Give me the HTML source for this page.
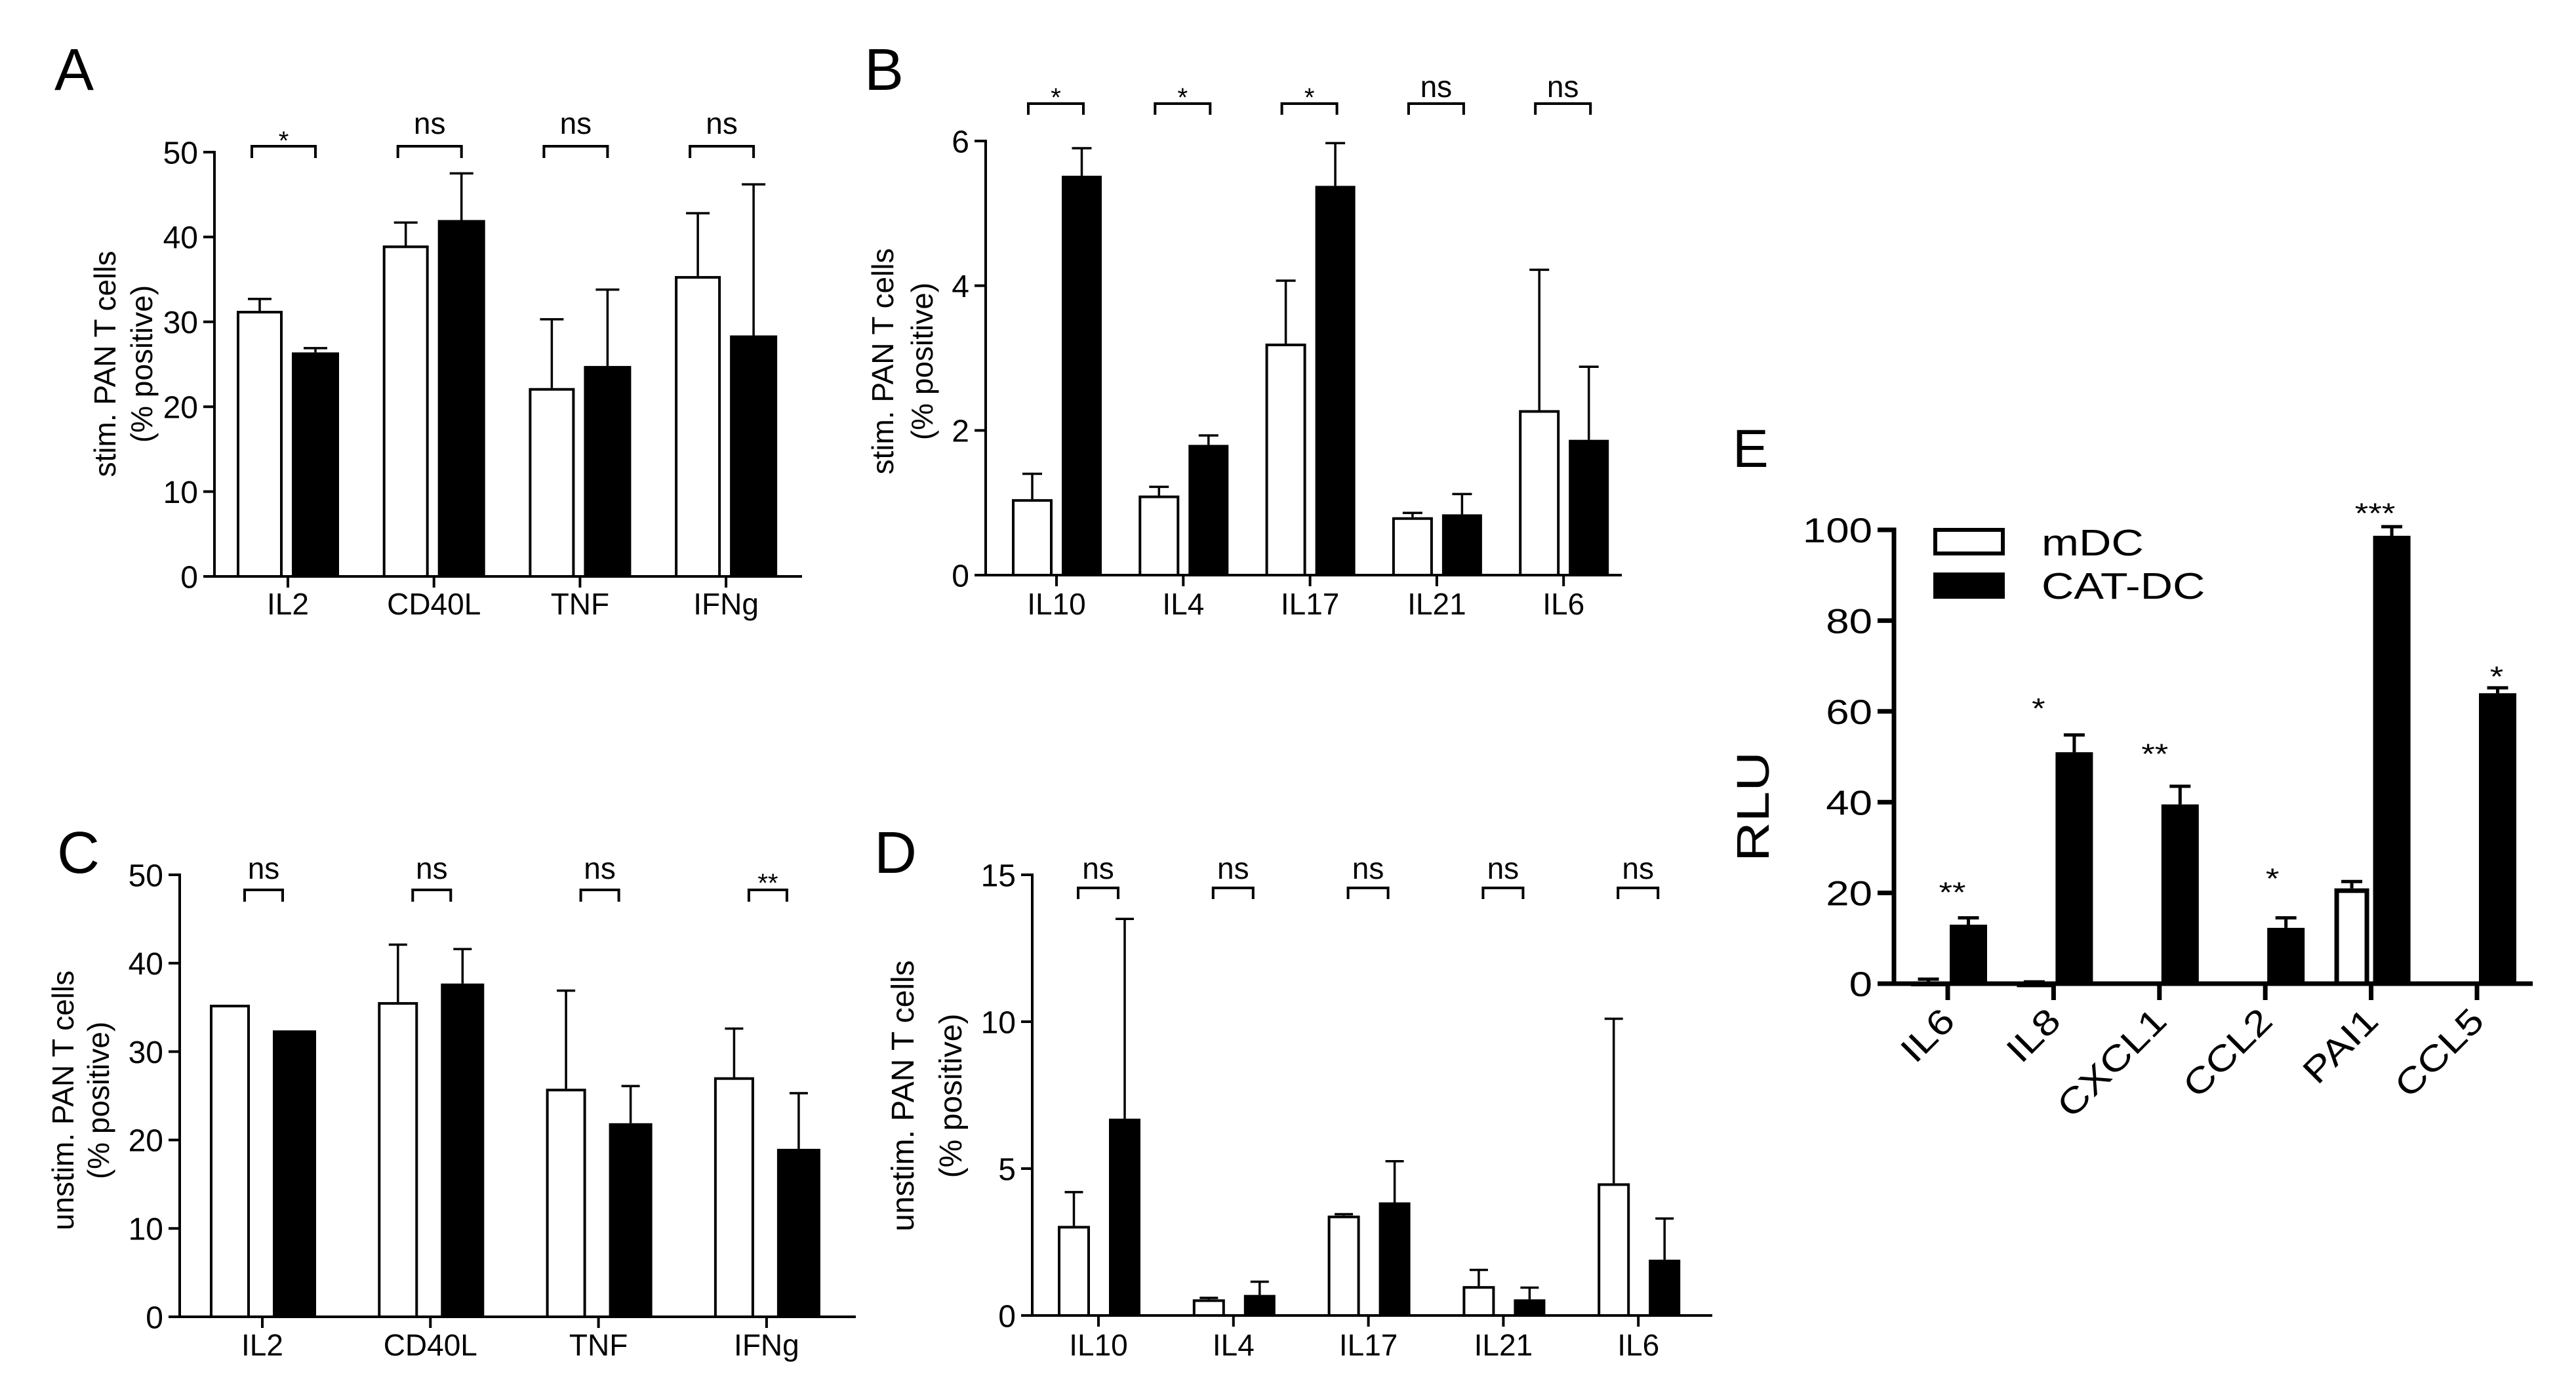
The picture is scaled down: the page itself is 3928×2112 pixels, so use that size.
<!DOCTYPE html>
<html><head><meta charset="utf-8"><style>
html,body{margin:0;padding:0;background:#fff}
svg{display:block}
text{font-family:"Liberation Sans",Arial,sans-serif;fill:#000}
</style></head><body>
<svg id="fig" xmlns="http://www.w3.org/2000/svg" width="3928" height="2112" viewBox="0 0 3928 2112"></svg>
<script>
// ---------- DATA ----------
const catsA = ["IL2","CD40L","TNF","IFNg"];
const whiteA = [31.3, 39.0, 22.2, 35.4];
const whiteErrA = [32.7, 41.7, 30.3, 42.8];
const blackA = [26.4, 42.0, 24.8, 28.4];
const blackErrA = [26.9, 47.5, 33.8, 46.2];
const sigA = ["*","ns","ns","ns"];
const ticksA = [0,10,20,30,40,50];

const catsB = ["IL10","IL4","IL17","IL21","IL6"];
const whiteB = [1.05, 1.1, 3.2, 0.8, 2.28];
const whiteErrB = [1.4, 1.22, 4.07, 0.86, 4.22];
const blackB = [5.52, 1.8, 5.38, 0.84, 1.87];
const blackErrB = [5.9, 1.93, 5.97, 1.12, 2.88];
const sigB = ["*","*","*","ns","ns"];
const ticksB = [0,2,4,6];

const catsC = ["IL2","CD40L","TNF","IFNg"];
const whiteC = [35.3, 35.6, 25.8, 27.1];
const whiteErrC = [35.3, 42.1, 36.9, 32.6];
const blackC = [32.4, 37.7, 21.9, 19.0];
const blackErrC = [32.4, 41.6, 26.1, 25.3];
const sigC = ["ns","ns","ns","**"];
const ticksC = [0,10,20,30,40,50];

const catsD = ["IL10","IL4","IL17","IL21","IL6"];
const whiteD = [3.05, 0.55, 3.4, 1.0, 4.5];
const whiteErrD = [4.2, 0.6, 3.45, 1.55, 10.1];
const blackD = [6.7, 0.7, 3.85, 0.55, 1.9];
const blackErrD = [13.5, 1.15, 5.25, 0.95, 3.3];
const sigD = ["ns","ns","ns","ns","ns"];
const ticksD = [0,5,10,15];

const catsE = ["IL6","IL8","CXCL1","CCL2","PAI1","CCL5"];
const whiteE = [0.5, 0.3, 0, 0, 21.0, 0];
const whiteErrE = [1.0, 0.4, 0, 0, 22.5, 0];
const blackE = [13.0, 51.0, 39.5, 12.3, 98.7, 64.0];
const blackErrE = [14.5, 54.8, 43.5, 14.5, 100.7, 65.2];
const sigE = ["**","*","**","*","***","*"];
const sigLevelE = [21.5, 62, 52, 24.5, 105, 69];
const ticksE = [0,20,40,60,80,100];

// ---------- DRAWING ----------
const NS = "http://www.w3.org/2000/svg";
const svg = document.getElementById('fig');
function mk(tag, attrs, parent){
  const e = document.createElementNS(NS, tag);
  for (const k in attrs) e.setAttribute(k, attrs[k]);
  (parent||svg).appendChild(e);
  return e;
}
function txt(parent, x, y, s, size, anchor, rot, sx){
  const t = mk('text', {x:0, y:0, 'font-size':size, 'text-anchor':anchor||'start',
    transform:`translate(${x},${y})${rot?` rotate(${rot})`:''}${sx?` scale(${sx},1)`:''}`}, parent);
  t.textContent = s;
  return t;
}

function panel(p){
  const g = mk('g', {});
  
  
  const ys = v => p.y0 - (v / p.ymax) * (p.y0 - p.yTop);
  const xs = i => p.cx0 + i * p.dx;

  // letter
  const L = txt(g, p.letter[0], p.letter[1], p.id.toUpperCase(), p.letter[2]);
  
  

  // y-axis title
  const yt = mk('g', {}, g);
  
  
  p.ytitle.forEach((line, k) => {
    txt(yt, p.ytX[k], p.ytY, line, p.ytSize, 'middle', -90, p.sx);
  });

  // axes
  const ax = mk('g', {stroke:'#000', 'stroke-width':p.sw, fill:'none'}, g);
  
  
  mk('line', {x1:p.ax, y1:p.y0 + p.sw/2, x2:p.ax, y2:p.yTop - p.sw/2}, ax);
  mk('line', {x1:p.ax - p.sw/2, y1:p.y0, x2:p.xEnd, y2:p.y0}, ax);
  const yl = mk('g', {}, g);
  
  
  p.ticks.forEach(v => {
    mk('line', {x1:p.ax - p.tl, y1:ys(v), x2:p.ax, y2:ys(v)}, ax);
    txt(yl, p.ax - p.tl - 8, ys(v) + p.tickSize*0.36, String(v), p.tickSize, 'end', 0, p.sx);
  });

  // bars
  const bars = mk('g', {}, g);
  
  
  p.cats.forEach((c, i) => {
    const t = xs(i);
    mk('line', {x1:t, y1:p.y0, x2:t, y2:p.y0 + p.tl, stroke:'#000', 'stroke-width':p.sw}, ax);
    [[p.white, p.whiteErr, p.wOff, '#fff', 'white'], [p.black, p.blackErr, p.bOff, '#000', 'black']].forEach(([vals, errs, off, fill, nm]) => {
      const v = vals[i], e = errs[i];
      const x1 = t + off[0], x2 = t + off[1], cx = (x1 + x2)/2;
      if (e > v) {
        const el = mk('path', {d:`M${cx},${ys(v)}V${ys(e)}M${cx-p.cap/2},${ys(e)}H${cx+p.cap/2}`, stroke:'#000', 'stroke-width':p.esw, fill:'none'}, bars);
        
        
      }
      if (v > 0) {
        const h = p.y0 - ys(v);
        const r = mk('rect', {x:x1 + p.sw/2, y:ys(v) + p.sw/2, width:x2 - x1 - p.sw, height:Math.max(h - p.sw/2, 0.5), fill:fill, stroke:'#000', 'stroke-width':p.sw}, bars);
        
        
      }
    });
    const cl = txt(g, p.rot ? t + 14 : t, p.catY, c, p.catSize, p.rot ? 'end' : 'middle', p.rot ? -45 : 0, p.sx);
    
    

    // significance
    const s = p.sig[i];
    if (p.bracket) {
      const b = mk('path', {d:`M${t+p.bracket[0]},${p.brY+p.brDrop}V${p.brY}H${t+p.bracket[1]}V${p.brY+p.brDrop}`, stroke:'#000', 'stroke-width':p.bsw, fill:'none'}, g);
      
      
      const mx = t + (p.bracket[0] + p.bracket[1]) / 2;
      const st = s === 'ns' ? txt(g, mx, p.nsY, s, p.nsSize, 'middle', 0, p.sx)
                            : txt(g, mx, p.starY, s, p.starSize, 'middle', 0, p.sx);
      
      
    } else {
      const st = txt(g, t + p.sigDx[i], ys(p.sigLevel[i]) + p.starSize*0.55, s, p.starSize, 'middle', 0, p.sx);
      
      
    }
  });
  return g;
}

panel({id:'a', cats:catsA, white:whiteA, whiteErr:whiteErrA, black:blackA, blackErr:blackErrA, sig:sigA, ticks:ticksA,
  ymax:50, ax:327, y0:879, yTop:232, xEnd:1223, cx0:439, dx:222.7, wOff:[-78,-8], bOff:[6,78],
  sw:4, esw:3.5, tl:17, cap:36, tickSize:48, catSize:46, catY:937, sx:0,
  letter:[83,137,90], ytitle:['stim. PAN T cells','(% positive)'], ytX:[176,232], ytY:555, ytSize:46,
  bracket:[-55,42], brY:223, brDrop:18, bsw:4, nsY:204, nsSize:46, starY:228, starSize:40});

panel({id:'b', cats:catsB, white:whiteB, whiteErr:whiteErrB, black:blackB, blackErr:blackErrB, sig:sigB, ticks:ticksB,
  ymax:6, ax:1503, y0:877, yTop:215, xEnd:2473, cx0:1611, dx:193.3, wOff:[-68,-6], bOff:[8,69],
  sw:4, esw:3.5, tl:17, cap:30, tickSize:48, catSize:46, catY:937, sx:0,
  letter:[1318,137,90], ytitle:['stim. PAN T cells','(% positive)'], ytX:[1362,1422], ytY:551, ytSize:46,
  bracket:[-43,41], brY:158, brDrop:17, bsw:4, nsY:148, nsSize:46, starY:162, starSize:40});

panel({id:'c', cats:catsC, white:whiteC, whiteErr:whiteErrC, black:blackC, blackErr:blackErrC, sig:sigC, ticks:ticksC,
  ymax:50, ax:274, y0:2008, yTop:1334, xEnd:1305, cx0:400, dx:256.3, wOff:[-80,-19], bOff:[16,82],
  sw:4, esw:3.5, tl:17, cap:28, tickSize:48, catSize:46, catY:2067, sx:0,
  letter:[87,1331,90], ytitle:['unstim. PAN T cells','(% positive)'], ytX:[112,166], ytY:1678, ytSize:46,
  bracket:[-27,31], brY:1357, brDrop:18, bsw:4, nsY:1340, nsSize:46, starY:1360, starSize:40});

panel({id:'d', cats:catsD, white:whiteD, whiteErr:whiteErrD, black:blackD, blackErr:blackErrD, sig:sigD, ticks:ticksD,
  ymax:15, ax:1574, y0:2006, yTop:1334, xEnd:2611, cx0:1675, dx:205.8, wOff:[-62,-13], bOff:[16,64],
  sw:4, esw:3.5, tl:17, cap:28, tickSize:48, catSize:46, catY:2067, sx:0,
  letter:[1333,1331,90], ytitle:['unstim. PAN T cells','(% positive)'], ytX:[1393,1466], ytY:1671, ytSize:48,
  bracket:[-31,30], brY:1354, brDrop:17, bsw:4, nsY:1340, nsSize:46, starY:1360, starSize:40});

panel({id:'e', cats:catsE, white:whiteE, whiteErr:whiteErrE, black:blackE, blackErr:blackErrE, sig:sigE, ticks:ticksE,
  sigLevel:sigLevelE, sigDx:[7,-23,-7,11,6,30],
  ymax:100, ax:2888, y0:1500, yTop:808, xEnd:3862, cx0:2970, dx:161.4, wOff:[-56,-3], bOff:[3,60],
  sw:7, esw:5, tl:25, cap:32, tickSize:53, catSize:54, catY:1560, sx:1.2, rot:true,
  letter:[2642,712,82], ytitle:['RLU'], ytX:[2697], ytY:1230, ytSize:70,
  bracket:null, starSize:44});

// legend for E
const lg = mk('g', {});


const lw = mk('rect', {x:2951, y:808, width:103, height:36, fill:'#fff', stroke:'#000', 'stroke-width':6}, lg);


const lb = mk('rect', {x:2948, y:873, width:109, height:40, fill:'#000'}, lg);


const t1 = txt(lg, 3113, 847, 'mDC', 57, 'start', 0, 1.2);


const t2 = txt(lg, 3113, 913, 'CAT-DC', 57, 'start', 0, 1.2);


</script>
</body></html>
